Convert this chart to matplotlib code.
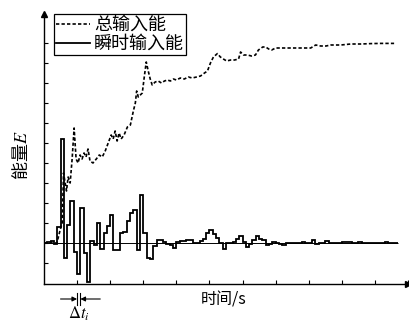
import numpy as np
import matplotlib
matplotlib.use("Agg")
import matplotlib.pyplot as plt

plt.rcParams['font.family'] = ['Noto Sans CJK SC', 'DejaVu Sans']
plt.rcParams['mathtext.fontset'] = 'stix'

# 数据 -------------------------------------------------
DT = 0.1  # 时间步长 Δt

# 瞬时输入能 (每个 Δt 一个值)
inst_energy = [
    0.0, 0.05, 0.1, -0.05, 0.82, 5.2, -0.77, 0.9, 2.1, -0.45,
    -1.57, 1.75, -0.5, -1.93, 0.1, -0.1, 1.0, -0.3, 0.5, 0.85,
    1.4, -0.35, -0.35, 0.5, 0.55, 1.1, 1.5, 1.65, -0.35, 2.4,
    0.5, -0.75, -0.8, -0.15, 0.15, 0.15, 0.05, -0.05, -0.1, -0.25,
    0.05, 0.1, 0.1, 0.15, 0.15, 0.0, 0.0, 0.1, 0.2, 0.5,
    0.65, 0.45, 0.25, 0.0, -0.3, 0.0, 0.0, 0.05, 0.2, 0.35,
    0.05, -0.2, -0.05, 0.15, 0.35, 0.2, 0.15, -0.1, -0.05, 0.05,
    0.0, -0.05, -0.1, 0.0, 0.0, 0.0, 0.02, 0.0, 0.03, 0.0,
    0.0, 0.15, -0.03, 0.0, 0.0, 0.12, 0.0, 0.0, 0.02, 0.0,
    0.03, 0.06, 0.03, 0.0, 0.0, 0.07, 0.0, 0.0, 0.02, 0.0,
    0.0, 0.0, 0.0, 0.07, 0.0, 0.0, 0.0,
]

# 总输入能
total_t = [
    0.0, 0.39, 0.48, 0.55, 0.59, 0.64, 0.68, 0.73, 0.79, 0.85,
    0.91, 0.97, 1.03, 1.09, 1.15, 1.21, 1.27, 1.33, 1.39, 1.48,
    1.58, 1.67, 1.76, 1.85, 1.94, 2.03, 2.09, 2.15, 2.21, 2.27,
    2.33, 2.42, 2.52, 2.61, 2.70, 2.76, 2.80, 2.85, 2.91, 2.97,
    3.03, 3.09, 3.15, 3.21, 3.27, 3.36, 3.45, 3.55, 3.64, 3.73,
    3.82, 3.91, 4.00, 4.12, 4.24, 4.36, 4.48, 4.61, 4.73, 4.85,
    4.94, 5.03, 5.12, 5.24, 5.33, 5.42, 5.52, 5.64, 5.76, 5.88,
    5.94, 6.03, 6.15, 6.27, 6.39, 6.48, 6.61, 6.70, 6.79, 6.88,
    7.00, 7.15, 7.45, 7.76, 8.06, 8.21, 8.36, 8.52, 8.67, 8.97,
    9.27, 9.58, 9.88, 10.18, 10.58,
]
total_e = [
    0.0, 0.0, 0.6, 1.0, 3.5, 3.0, 2.6, 3.3, 3.0, 4.2,
    5.75, 4.2, 4.0, 4.4, 4.2, 4.5, 4.3, 4.7, 4.1, 4.0,
    4.2, 4.4, 4.3, 4.6, 5.0, 5.4, 5.2, 5.6, 5.1, 5.5,
    5.2, 5.4, 5.8, 5.9, 6.6, 7.0, 7.6, 7.3, 7.4, 7.5,
    8.3, 9.05, 8.6, 8.2, 7.9, 8.05, 8.1, 8.0, 8.1, 8.15,
    8.1, 8.2, 8.15, 8.25, 8.2, 8.3, 8.25, 8.3, 8.35, 8.5,
    8.6, 9.0, 9.3, 9.47, 9.3, 9.2, 9.1, 9.15, 9.15, 9.2,
    9.55, 9.4, 9.4, 9.35, 9.4, 9.65, 9.8, 9.8, 9.7, 9.65,
    9.75, 9.75, 9.75, 9.75, 9.75, 9.9, 9.85, 9.85, 9.9, 9.9,
    9.95, 9.95, 9.97, 9.98, 9.98,
]

edges = np.arange(len(inst_energy) + 1) * DT

# 绘图 -------------------------------------------------
fig = plt.figure(figsize=(4.09, 3.25), dpi=100)
ax = fig.add_axes([44 / 409, 1 - 284 / 325, 364 / 409, 270 / 325])

ax.hlines(0, 0, edges[-1], color='k', lw=0.7)
l1, = ax.plot(total_t, total_e, color='k', lw=1.2, ls=(0, (2, 1.3)))
st = ax.stairs(inst_energy, edges, color='k', lw=1.3)
l2, = ax.plot([], [], color='k', lw=1.3)

ax.set_xlim(0, 11)
ax.set_ylim(-2.05, 11.45)
ax.set_xticks(np.arange(1, 12))
ax.set_yticks(np.arange(-1, 11))
ax.tick_params(direction='in', length=3, width=0.8,
               labelbottom=False, labelleft=False)
for s in ['top', 'right']:
    ax.spines[s].set_visible(False)
for s in ['left', 'bottom']:
    ax.spines[s].set_linewidth(1.0)

# 坐标轴箭头
ax.plot(1, 0, '>', color='k', ms=4, transform=ax.transAxes, clip_on=False)
ax.plot(0, 1, '^', color='k', ms=4, transform=ax.transAxes, clip_on=False)

ax.legend([l1, l2], ['总输入能', '瞬时输入能'], loc='upper left',
          bbox_to_anchor=(54 / 409, 1 - 14 / 325),
          bbox_transform=fig.transFigure, borderaxespad=0,
          fontsize=13, handlelength=1.9, handletextpad=0.2,
          borderpad=0.12, labelspacing=0.05, frameon=True, fancybox=False,
          edgecolor='k', framealpha=1)
ax.get_legend().get_frame().set_linewidth(0.9)

fig.text(21 / 409, 1 - 155 / 325, '能量$E$', rotation=90, fontsize=13,
         ha='center', va='center')
fig.text(224 / 409, 1 - 300 / 325, '时间/s', fontsize=11.5,
         ha='center', va='center')

# Δt_i 标注
t0, t1 = 10 * DT, 11 * DT
ax.plot([t0, t0], [-2.5, -3.1], color='k', lw=0.8, clip_on=False)
ax.plot([t1, t1], [-2.5, -3.1], color='k', lw=0.8, clip_on=False)
ax.annotate('', xy=(t0, -2.8), xytext=(t0 - 0.5, -2.8),
            arrowprops=dict(arrowstyle='-|>', color='k', lw=0.8,
                            mutation_scale=7, shrinkA=0, shrinkB=0),
            annotation_clip=False)
ax.annotate('', xy=(t1, -2.8), xytext=(t1 + 0.6, -2.8),
            arrowprops=dict(arrowstyle='-|>', color='k', lw=0.8,
                            mutation_scale=7, shrinkA=0, shrinkB=0),
            annotation_clip=False)
ax.text((t0 + t1) / 2, -3.55, r'$\Delta t_i$', fontsize=12,
        ha='center', va='center', clip_on=False)

fig.savefig('out.png', dpi=100)
